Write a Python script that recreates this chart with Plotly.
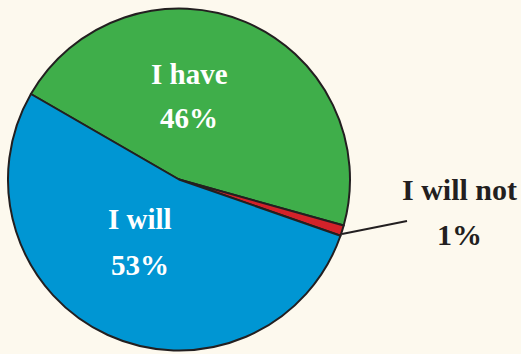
import plotly.graph_objects as go

# Survey answers, in drawing order (clockwise from the upper-left edge)
labels = ["I have", "I will not", "I will"]
values = [46, 1, 53]
colors = ["#3fae4a", "#d3222a", "#0096d3"]

W, H = 521, 354
BG = "#fdf9ee"
EDGE = "#231f20"


def px(x, y):
    """Pixel position -> paper coordinates."""
    return x / W, 1 - y / H


fig = go.Figure(
    go.Pie(
        labels=labels,
        values=values,
        sort=False,
        direction="clockwise",
        rotation=-60,
        marker=dict(colors=colors, line=dict(color=EDGE, width=2)),
        textinfo="none",
        hoverinfo="label+percent",
        domain=dict(x=[8 / W, 350 / W], y=[1 - 352 / H, 1 - 7 / H]),
        showlegend=False,
    )
)

font_in = dict(family="Liberation Serif", size=29, color="white")
font_out = dict(family="Liberation Serif", size=30, color=EDGE)

label_pos = {
    "I have": ((189, 74), (189, 118), font_in),
    "I will": ((140, 219), (140, 265), font_in),
    "I will not": ((459, 189), (459, 234), font_out),
}

annotations = []
for name, val in zip(labels, values):
    (lx, ly), (vx, vy), f = label_pos[name]
    for (x, y), txt in (((lx, ly), name), ((vx, vy), f"{val}%")):
        xp, yp = px(x, y)
        annotations.append(
            dict(x=xp, y=yp, xref="paper", yref="paper", text=f"<b>{txt}</b>",
                 showarrow=False, font=f, xanchor="center", yanchor="middle")
        )

# leader line from the small slice to its label
x0, y0 = px(342, 234)
x1, y1 = px(407, 221)

fig.update_layout(
    width=W,
    height=H,
    margin=dict(l=0, r=0, t=0, b=0),
    paper_bgcolor=BG,
    plot_bgcolor=BG,
    annotations=annotations,
    shapes=[dict(type="line", xref="paper", yref="paper", x0=x0, y0=y0,
                 x1=x1, y1=y1, line=dict(color=EDGE, width=2))],
)

fig.write_html("out.html")
